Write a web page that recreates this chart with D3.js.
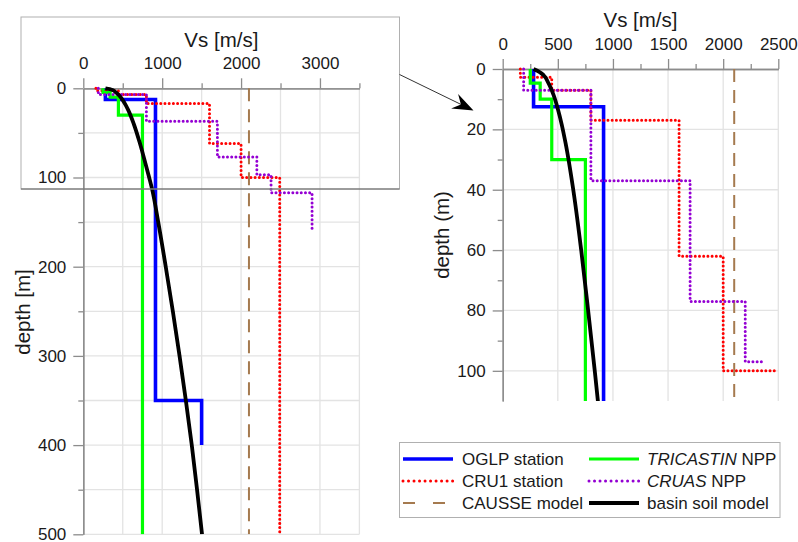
<!DOCTYPE html>
<html>
<head>
<meta charset="utf-8">
<script src="https://cdn.jsdelivr.net/npm/d3@7"></script>
<style>
  body { margin: 0; background: #fff; }
  svg { font-family: "Liberation Sans", Arial, sans-serif; }
  .axis path, .axis line { stroke: #8c8c8c; }
  .axis text { fill: #1a1a1a; font-size: 17px; }
</style>
</head>
<body>
<div id="chart"></div>
<script>

// profiles: depth [m] and Vs [m/s]
const depthOGLP = [0, 12.5, 12.5, 350, 350, 400];
const vsOGLP    = [280, 280, 915, 915, 1500, 1500];

const depthTricastin = [0, 4.7, 4.7, 10, 10, 30, 30, 500];
const vsTricastin    = [250, 250, 340, 340, 445, 445, 750, 750];

const depthCRU1 = [0, 2.7, 2.7, 7, 7, 17, 17, 62, 62, 100, 100, 500];
const vsCRU1    = [160, 160, 445, 445, 800, 800, 1600, 1600, 2000, 2000, 2490, 2490];

const depthCruas = [0, 7, 7, 37, 37, 77, 77, 97, 97, 117, 117, 160];
const vsCruas    = [190, 190, 800, 800, 1700, 1700, 2200, 2200, 2380, 2380, 2900, 2900];

const depthCausse = [0, 500];
const vsCausse    = [2100, 2100];

const depthBasin = [0, 1, 2, 4.7, 8.6, 13.5, 18.5, 24.5, 40, 60, 80, 100, 113, 150, 200, 250, 300, 350, 400, 450, 500];
const vsBasin    = [280, 335, 370, 415, 461, 502, 536, 570, 640, 712, 775, 835, 872, 950, 1045, 1135, 1220, 1300, 1375, 1442, 1505];

// the zoomed panel only shows the CRU1 / CRUAS profiles down to 100 m
const shallowCut = 100;

const legendLabels = ['OGLP station', 'CRU1 station', 'CAUSSE model', 'TRICASTIN NPP', 'CRUAS NPP', 'basin soil model'];

const leftXTicks  = [0, 1000, 2000, 3000];
const leftYTicks  = [0, 100, 200, 300, 400, 500];
const rightXTicks = [0, 500, 1000, 1500, 2000, 2500];
const rightYTicks = [0, 20, 40, 60, 80, 100];

function toPoints(depths, vs){
  return depths.map((d,i)=>({depth:d, vs:vs[i]}));
}

const series=[
  {key:'OGLP', pts:toPoints(depthOGLP,vsOGLP), color:'#0000ff', width:3.6, dash:null, cut:false},
  {key:'CRU1', pts:toPoints(depthCRU1,vsCRU1), color:'#ff0000', width:3, dash:'0.01,4.2', cut:true},
  {key:'CAUSSE', pts:toPoints(depthCausse,vsCausse), color:'#a57a4f', width:2, dash:'13,8', cut:false},
  {key:'TRICASTIN', pts:toPoints(depthTricastin,vsTricastin), color:'#00ff00', width:3.2, dash:null, cut:false},
  {key:'CRUAS', pts:toPoints(depthCruas,vsCruas), color:'#9400d3', width:3, dash:'0.01,4.2', cut:true},
  {key:'basin', pts:toPoints(depthBasin,vsBasin), color:'#000000', width:3.8, dash:null, cut:false, smooth:true}
];

const svg=d3.select('#chart')
            .append('svg')
            .attr('width',798)
            .attr('height',542);

/*
 * panels
 */
const panels=[
  {id:'full', x:d3.scaleLinear([0,3500],[83.3,359.4]), y:d3.scaleLinear([0,500],[88.3,534.3]),
   xMajor:leftXTicks, xMinor:d3.range(500,3501,1000), xGrid:d3.range(500,3501,500),
   yMajor:leftYTicks, yMinor:d3.range(50,500,100), yGrid:d3.range(50,501,50),
   title:'Vs [m/s]', titleY:47, ytitle:'depth [m]', ytitleX:30, ytitleY:312, shallow:false},
  {id:'zoom', x:d3.scaleLinear([0,2500],[502.7,778.3]), y:d3.scaleLinear([0,110],[69,401]),
   xMajor:rightXTicks, xMinor:d3.range(250,2500,500), xGrid:d3.range(500,2501,500),
   yMajor:rightYTicks, yMinor:d3.range(10,110,20), yGrid:d3.range(20,101,20),
   title:'Vs [m/s]', titleY:27, ytitle:'depth (m)', ytitleX:449, ytitleY:235, shallow:true}
];

panels.forEach(p=>{
  const [x0,x1]=p.x.range();
  const [y0,y1]=p.y.range();
  const g=svg.append('g').attr('class','panel-'+p.id);

  // grid
  g.selectAll('.vgrid').data(p.xGrid).enter().append('line')
    .attr('x1',d=>p.x(d)).attr('x2',d=>p.x(d))
    .attr('y1',y0).attr('y2',y1)
    .attr('stroke','#e3e3e3').attr('stroke-width',1.3);
  g.selectAll('.hgrid').data(p.yGrid).enter().append('line')
    .attr('x1',x0).attr('x2',x1)
    .attr('y1',d=>p.y(d)).attr('y2',d=>p.y(d))
    .attr('stroke','#e3e3e3').attr('stroke-width',1.3);

  // axes
  g.append('g').attr('class','axis')
    .attr('transform','translate(0,'+y0+')')
    .call(d3.axisTop(p.x).tickValues(p.xMinor).tickSize(5).tickSizeOuter(0).tickFormat(''));
  g.append('g').attr('class','axis')
    .attr('transform','translate(0,'+y0+')')
    .call(d3.axisTop(p.x).tickValues(p.xMajor).tickSize(10).tickSizeOuter(0).tickPadding(9).tickFormat(d3.format('d')));
  g.append('g').attr('class','axis')
    .attr('transform','translate('+x0+',0)')
    .call(d3.axisLeft(p.y).tickValues(p.yMinor).tickSize(5).tickSizeOuter(0).tickFormat(''));
  g.append('g').attr('class','axis')
    .attr('transform','translate('+x0+',0)')
    .call(d3.axisLeft(p.y).tickValues(p.yMajor).tickSize(10).tickSizeOuter(0).tickPadding(7).tickFormat(d3.format('d')));
  g.selectAll('.axis path').attr('stroke-width',1.3);
  g.selectAll('.axis line').attr('stroke-width',1.3);

  g.append('text')
    .attr('x',(x0+x1)/2).attr('y',p.titleY)
    .attr('text-anchor','middle')
    .style('font-size','20.5px').attr('fill','#1a1a1a')
    .text(p.title);
  g.append('text')
    .attr('transform','translate('+p.ytitleX+','+p.ytitleY+') rotate(-90)')
    .attr('text-anchor','middle')
    .style('font-size','20.5px').attr('fill','#1a1a1a')
    .text(p.ytitle);

  // lines
  svg.append('clipPath').attr('id','clip-'+p.id)
    .append('rect')
    .attr('x',x0-4).attr('y',y0-10)
    .attr('width',x1-x0+8).attr('height',y1-y0+10);

  const plot=g.append('g').attr('clip-path','url(#clip-'+p.id+')');

  series.forEach(s=>{
    let pts=s.pts;
    if(p.shallow && s.cut) pts=pts.filter(d=>d.depth<=shallowCut);
    const line=d3.line()
                .x(d=>p.x(d.vs))
                .y(d=>p.y(d.depth))
                .curve(s.smooth ? d3.curveMonotoneY : d3.curveLinear);
    plot.append('path')
      .attr('d',line(pts))
      .attr('fill','none')
      .attr('stroke',s.color)
      .attr('stroke-width',s.width)
      .attr('stroke-dasharray',s.dash)
      .attr('stroke-linecap',s.dash && s.dash.startsWith('0.01') ? 'round' : 'butt');
  });
});

/*
 * inset frame + arrow to the zoomed panel
 */
svg.append('rect')
  .attr('x',21).attr('y',17).attr('width',378.5).attr('height',172)
  .attr('fill','none').attr('stroke','#b0b0b0').attr('stroke-width',1);
svg.append('line')
  .attr('x1',21).attr('x2',399.5).attr('y1',189).attr('y2',189)
  .attr('stroke','#606060').attr('stroke-width',1.2);

const tip=[473.5,110.5], start=[399.5,74.5];
const len=Math.hypot(tip[0]-start[0],tip[1]-start[1]);
const u=[(tip[0]-start[0])/len,(tip[1]-start[1])/len];
const n=[-u[1],u[0]];
const back=[tip[0]-21*u[0],tip[1]-21*u[1]];
const notch=[tip[0]-14*u[0],tip[1]-14*u[1]];
svg.append('line')
  .attr('x1',start[0]).attr('y1',start[1])
  .attr('x2',notch[0]).attr('y2',notch[1])
  .attr('stroke','#333').attr('stroke-width',1);
svg.append('path')
  .attr('d','M'+tip+'L'+[back[0]+8*n[0],back[1]+8*n[1]]+'L'+notch+'L'+[back[0]-8*n[0],back[1]-8*n[1]]+'Z')
  .attr('fill','#000');

/*
 * legend
 */
const legend=svg.append('g').attr('class','legend');
legend.append('rect')
  .attr('x',399.5).attr('y',442.5).attr('width',380.5).attr('height',75)
  .attr('fill','#fff').attr('stroke','#b0b0b0').attr('stroke-width',1);

const italicPart={'TRICASTIN NPP':'TRICASTIN','CRUAS NPP':'CRUAS'};
const rowY=[459,481,503];

series.forEach((s,i)=>{
  const col=Math.floor(i/3), row=i%3;
  const lx=col===0 ? 403 : 589;
  const tx=col===0 ? 462 : 647;
  const y=rowY[row];
  legend.append('line')
    .attr('x1',lx).attr('x2',lx+50)
    .attr('y1',y).attr('y2',y)
    .attr('stroke',s.color)
    .attr('stroke-width',s.width)
    .attr('stroke-dasharray',s.key==='CAUSSE' ? '12,18' : (s.dash ? '0.01,5.5' : null))
    .attr('stroke-linecap',s.dash && s.dash.startsWith('0.01') ? 'round' : 'butt');
  const label=legendLabels[i];
  const t=legend.append('text')
    .attr('x',tx).attr('y',y+6)
    .style('font-size','17px').attr('fill','#1a1a1a');
  if(italicPart[label]){
    t.append('tspan').style('font-style','italic').text(italicPart[label]);
    t.append('tspan').text(label.slice(italicPart[label].length));
  } else {
    t.text(label);
  }
});

</script>
</body>
</html>
